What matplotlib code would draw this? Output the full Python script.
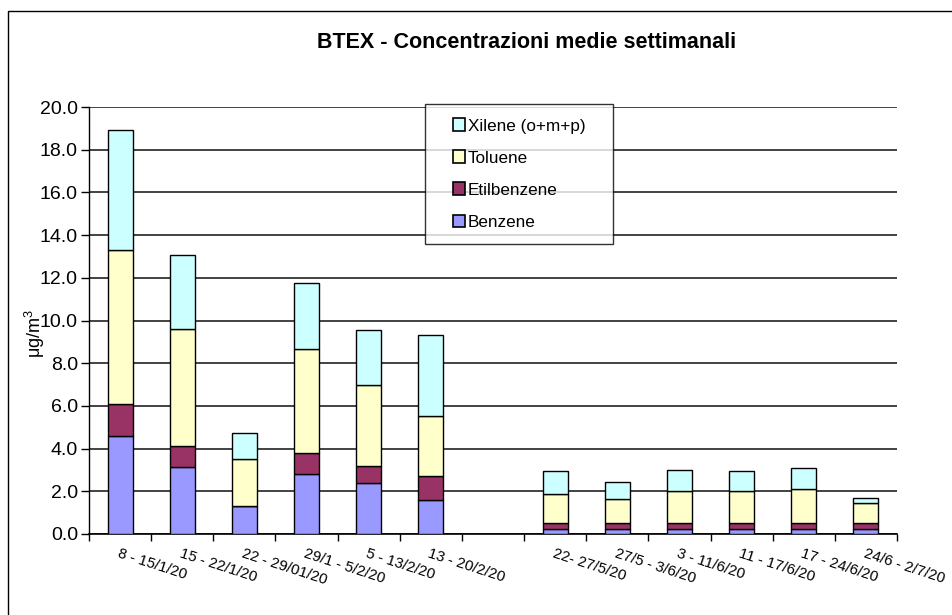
import numpy as np
import matplotlib
matplotlib.use("Agg")
import matplotlib.pyplot as plt
from matplotlib.patches import Rectangle
from matplotlib.legend_handler import HandlerPatch

categories = ["8 - 15/1/20", "15 - 22/1/20", "22 - 29/01/20", "29/1 - 5/2/20",
              "5 - 13/2/20", "13 - 20/2/20", "",
              "22- 27/5/20", "27/5 - 3/6/20", "3 - 11/6/20", "11 - 17/6/20",
              "17 - 24/6/20", "24/6 - 2/7/20"]

benzene     = [4.6, 3.15, 1.3, 2.8, 2.4, 1.6, None, 0.25, 0.25, 0.25, 0.25, 0.25, 0.25]
etilbenzene = [1.5, 0.95, 0.0, 1.0, 0.8, 1.1, None, 0.28, 0.28, 0.28, 0.28, 0.28, 0.28]
toluene     = [7.2, 5.5, 2.2, 4.85, 3.8, 2.85, None, 1.35, 1.1, 1.47, 1.47, 1.6, 0.9]
xilene      = [5.6, 3.45, 1.25, 3.1, 2.55, 3.75, None, 1.05, 0.8, 0.98, 0.93, 0.98, 0.27]

series_names = ["Benzene", "Etilbenzene", "Toluene", "Xilene (o+m+p)"]
colors = ["#9999FF", "#993366", "#FFFFCC", "#CCFFFF"]

yticks = np.arange(0, 20.01, 2.0)

plt.rcParams['font.family'] = ['Liberation Sans', 'DejaVu Sans']

fig = plt.figure(figsize=(9.53, 6.15), dpi=100)
fig.patches.append(Rectangle((8/953, -0.1), 2.0, (615-11)/615 + 0.1,
                             transform=fig.transFigure, fill=False,
                             edgecolor='black', lw=1.0))

ax = fig.add_axes([89/953, (615-534)/615, (897-89)/953, (534-107)/615])

idx = [i for i, v in enumerate(benzene) if v is not None]
x = np.array(idx, dtype=float)
data = [np.array([s[i] for i in idx]) for s in (benzene, etilbenzene, toluene, xilene)]

handles = []
bottom = np.zeros(len(idx))
for vals, name, c in zip(data, series_names, colors):
    b = ax.bar(x, vals, width=0.4, bottom=bottom, color=c, edgecolor='black',
               linewidth=1.0, label=name, zorder=3)
    handles.append(b)
    bottom = bottom + vals

ax.set_xlim(-0.5, len(categories) - 0.5)
ax.set_ylim(0, 20)
ax.set_yticks(yticks)
ax.set_yticklabels([f"{v:.1f}" for v in yticks], fontsize=14)
ax.yaxis.grid(True, color='#222222', linewidth=1.2, zorder=0)
ax.set_axisbelow(True)

ax.set_xticks(np.arange(-0.5, len(categories), 1.0))
ax.set_xticklabels([])
ax.set_xticks(np.arange(len(categories)), minor=True)
ax.set_xticklabels(categories, minor=True, rotation=-18, ha='left', va='top',
                   rotation_mode='anchor', fontsize=10.8)
ax.tick_params(axis='x', which='minor', length=0, pad=9)
ax.tick_params(axis='x', which='major', length=5, width=1.0, direction='out')
ax.tick_params(axis='y', length=6, width=1.0, direction='out', pad=2)

for s in ['top', 'right']:
    ax.spines[s].set_visible(False)
ax.spines['left'].set_linewidth(1.0)
ax.spines['bottom'].set_linewidth(1.2)

ax.set_ylabel(r"$\mathregular{\mu g/m^3}$", fontsize=13)
ax.yaxis.set_label_coords((47 - 89) / 808, (534 - 333) / 427)

fig.text(527/953, 1 - 42/615, "BTEX - Concentrazioni medie settimanali",
         ha='center', va='center', fontsize=15.5, fontweight='bold')


def small_square(legend, orig_handle, xdescent, ydescent, width, height, fontsize):
    s = height * 1.05
    return Rectangle((width - s - xdescent, -ydescent + (height - s) / 2), s, s)


class SquareHandler(HandlerPatch):
    def __init__(self):
        super().__init__(patch_func=small_square)

    def update_prop(self, legend_handle, orig_handle, legend):
        super().update_prop(legend_handle, orig_handle, legend)
        legend_handle.set_edgecolor('black')
        legend_handle.set_linewidth(1.2)


x0 = (425 - 89) / 808
w = (613 - 425) / 808
y_top = (534 - 104) / 427
leg = ax.legend([h.patches[0] for h in handles[::-1]], series_names[::-1],
                loc='upper left', bbox_to_anchor=(x0, y_top - 0.3, w, 0.3),
                mode='expand', fontsize=12.3,
                frameon=True, fancybox=False, edgecolor='black',
                handlelength=1.5, handleheight=0.7, handletextpad=0.15,
                labelspacing=1.0, borderpad=0.85, borderaxespad=0,
                handler_map={Rectangle: SquareHandler()})
leg.get_frame().set_linewidth(1.0)
leg.set_zorder(5)

fig.savefig("out.png", dpi=100)
